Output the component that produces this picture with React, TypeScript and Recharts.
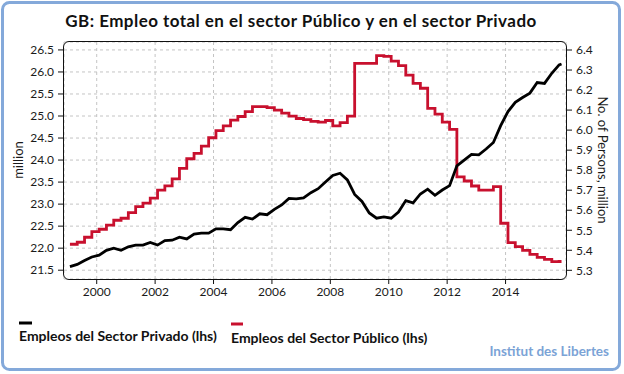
import React from 'react';
import { LineChart, Line, XAxis, YAxis, CartesianGrid } from 'recharts';

// Quarterly observations (mid-quarter months), plus a final month point
const YEARS = [1999, 2000, 2001, 2002, 2003, 2004, 2005, 2006, 2007, 2008, 2009, 2010, 2011, 2012, 2013, 2014, 2015];
const QUARTER_MONTHS = [2, 5, 8, 11];
const LAST_MONTH = { year: 2015, month: 12 };

// Private sector employment, million (left axis)
const PRIVADO = [
  21.58, 21.63, 21.72, 21.8,
  21.84, 21.95, 22.0, 21.95,
  22.03, 22.07, 22.07, 22.13,
  22.07, 22.17, 22.18, 22.25,
  22.21, 22.32, 22.34, 22.34,
  22.44, 22.44, 22.42, 22.58,
  22.7, 22.66, 22.78, 22.76,
  22.88, 22.98, 23.13, 23.12,
  23.14, 23.26, 23.35, 23.5,
  23.65, 23.7, 23.55, 23.22,
  23.06, 22.8, 22.68, 22.71,
  22.68, 22.82, 23.08, 23.03,
  23.23, 23.34, 23.2, 23.32,
  23.42, 23.87, 24.0, 24.13,
  24.12, 24.25, 24.4, 24.78,
  25.1, 25.31, 25.42, 25.52,
  25.76, 25.74, 25.97, 26.16,
  26.18,
];

// Public sector employment, million (right axis)
const PUBLICO = [
  5.43, 5.44, 5.465, 5.493,
  5.505, 5.526, 5.55, 5.56,
  5.588, 5.618, 5.635, 5.66,
  5.7, 5.722, 5.757, 5.809,
  5.857, 5.884, 5.92, 5.962,
  5.997, 6.021, 6.05, 6.068,
  6.092, 6.117, 6.117, 6.112,
  6.1, 6.085, 6.07, 6.058,
  6.052, 6.044, 6.04, 6.048,
  6.021, 6.037, 6.07, 6.333,
  6.333, 6.333, 6.372, 6.368,
  6.345, 6.322, 6.275, 6.233,
  6.209, 6.109, 6.08, 6.04,
  6.004, 5.767, 5.746, 5.721,
  5.7, 5.7, 5.718, 5.535,
  5.438, 5.418, 5.4, 5.38,
  5.365, 5.355, 5.343, 5.344,
  5.344,
];

const X_TICKS = [2000, 2002, 2004, 2006, 2008, 2010, 2012, 2014];
const LEFT_TICKS = [21.5, 22.0, 22.5, 23.0, 23.5, 24.0, 24.5, 25.0, 25.5, 26.0, 26.5];
const RIGHT_TICKS = [5.3, 5.4, 5.5, 5.6, 5.7, 5.8, 5.9, 6.0, 6.1, 6.2, 6.3, 6.4];

const TITLE = 'GB: Empleo total en el sector Público y en el sector Privado';
const LEFT_LABEL = 'million';
const RIGHT_LABEL = 'No. of Persons, million';
const SERIES_PRIVADO = 'Empleos del Sector Privado (lhs)';
const SERIES_PUBLICO = 'Empleos del Sector Público (lhs)';
const SOURCE = 'Institut des Libertes';

const DATES: number[] = [];
YEARS.forEach((y) => QUARTER_MONTHS.forEach((m) => DATES.push(y + (m - 1) / 12)));
DATES.push(LAST_MONTH.year + (LAST_MONTH.month - 1) / 12);

const data = DATES.map((t, i) => ({ t, privado: PRIVADO[i], publico: PUBLICO[i] }));

const W = 624;
const H = 374;
const FONT = 'Lato, "Open Sans", sans-serif';
const BLACK = '#000000';
const RED = '#c8102e';
const BLUE = '#84a9da';

const tickStyle = { fill: '#1a1a1a', fontSize: 12, fontFamily: FONT };

export default function App() {
  return (
    <div style={{ position: 'fixed', left: 0, top: 0, width: W, height: H, background: '#fff' }}>
      <LineChart
        width={W}
        height={H}
        data={data}
        margin={{ top: 42, right: 8, bottom: 65, left: 4 }}
      >
        <CartesianGrid
          yAxisId="left"
          stroke="#c4c4c4"
          strokeDasharray="3 3"
          strokeWidth={1}
        />
        <XAxis
          type="number"
          dataKey="t"
          domain={[1998.88, 2016.07]}
          allowDataOverflow
          ticks={X_TICKS}
          interval={0}
          axisLine={false}
          tickLine={{ stroke: '#111' }}
          tickSize={5}
          tickMargin={3}
          tick={tickStyle}
          height={30}
        />
        <YAxis
          yAxisId="left"
          orientation="left"
          domain={[21.3, 26.68]}
          allowDataOverflow
          ticks={LEFT_TICKS}
          interval={0}
          tickFormatter={(v: number) => v.toFixed(1)}
          axisLine={false}
          tickLine={{ stroke: '#111' }}
          tickSize={6}
          tickMargin={4}
          tick={tickStyle}
          width={60}
        />
        <YAxis
          yAxisId="right"
          orientation="right"
          domain={[5.2566, 6.44]}
          allowDataOverflow
          ticks={RIGHT_TICKS}
          interval={0}
          tickFormatter={(v: number) => v.toFixed(1)}
          axisLine={false}
          tickLine={{ stroke: '#111' }}
          tickSize={6}
          tickMargin={4}
          tick={tickStyle}
          width={50}
        />
        <Line
          yAxisId="right"
          type="stepAfter"
          dataKey="publico"
          stroke={RED}
          strokeWidth={2.8}
          dot={false}
          isAnimationActive={false}
        />
        <Line
          yAxisId="left"
          type="linear"
          dataKey="privado"
          stroke={BLACK}
          strokeWidth={2.8}
          dot={false}
          isAnimationActive={false}
        />
      </LineChart>
      <div
        style={{
          position: 'absolute',
          left: 63,
          top: 41,
          width: 504,
          height: 239,
          boxSizing: 'border-box',
          border: '1px solid #111',
          borderRadius: 6,
          pointerEvents: 'none',
        }}
      />
      <svg
        width={W}
        height={H}
        style={{ position: 'absolute', left: 0, top: 0, pointerEvents: 'none' }}
      >
        <rect x={2.5} y={2.5} width={617} height={367} rx={7} ry={7} fill="none" stroke={BLUE} strokeWidth={3} />
        <text x={301} y={27} textAnchor="middle" fontFamily={FONT} fontWeight={700} fontSize={17} letterSpacing={0.45} fill="#111">
          {TITLE}
        </text>
        <text transform="translate(23,160) rotate(-90)" textAnchor="middle" fontFamily={FONT} fontSize={13} fill="#1a1a1a">
          {LEFT_LABEL}
        </text>
        <text transform="translate(598,160) rotate(90)" textAnchor="middle" fontFamily={FONT} fontSize={13} fill="#1a1a1a">
          {RIGHT_LABEL}
        </text>
        <line x1={19} x2={32} y1={323} y2={323} stroke={BLACK} strokeWidth={3} />
        <text x={19} y={341} fontFamily={FONT} fontWeight={700} fontSize={14} fill="#111">
          {SERIES_PRIVADO}
        </text>
        <line x1={231} x2={243} y1={324} y2={324} stroke={RED} strokeWidth={3} />
        <text x={231} y={343} fontFamily={FONT} fontWeight={700} fontSize={14} fill="#111">
          {SERIES_PUBLICO}
        </text>
        <text x={609} y={356} textAnchor="end" fontFamily={FONT} fontWeight={700} fontSize={13.5} fill="#7ba3d6">
          {SOURCE}
        </text>
      </svg>
    </div>
  );
}
